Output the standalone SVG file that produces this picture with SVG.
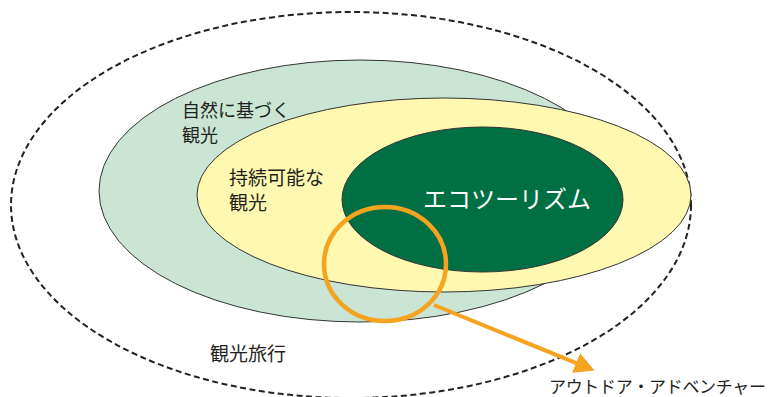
<svg xmlns="http://www.w3.org/2000/svg" width="768" height="397" viewBox="0 0 768 397">
<style>
.t{font-family:"Noto Sans CJK JP","Noto Sans",sans-serif;fill:#231f20}
.edge{stroke:#333;stroke-width:1}
</style>
<defs>
<marker id="ah" markerUnits="userSpaceOnUse" markerWidth="22" markerHeight="22" refX="1" refY="10.5" orient="auto" viewBox="0 0 22 22">
<path d="M0,0 L20,10.5 L0,21 z" fill="#F6A31F"/>
</marker>
</defs>
<rect width="768" height="397" fill="#fff"/>
<g id="kanko-ryoko">
<ellipse cx="351" cy="205" rx="340" ry="193" fill="none" stroke="#222" stroke-width="2" stroke-dasharray="6,3.5"/>
<text class="t" x="210" y="361" font-size="19">観光旅行</text>
</g>
<g id="shizen">
<ellipse class="edge" cx="360" cy="191" rx="261" ry="131" fill="#CAE5D4"/>
<text class="t" x="182" y="117" font-size="18">自然に基づく</text>
<text class="t" x="182" y="142" font-size="18">観光</text>
</g>
<g id="jizoku">
<ellipse class="edge" cx="444" cy="195" rx="247" ry="97" fill="#FFF8B0"/>
<text class="t" x="229" y="185" font-size="19">持続可能な</text>
<text class="t" x="229" y="210" font-size="19">観光</text>
</g>
<g id="ecotourism">
<ellipse class="edge" cx="482.5" cy="199.5" rx="140.5" ry="72.5" fill="#006F43"/>
<text class="t" x="423" y="208" font-size="24" style="fill:#fff">エコツーリズム</text>
</g>
<g id="outdoor">
<ellipse cx="385" cy="264" rx="61" ry="57" fill="none" stroke="#F6A31F" stroke-width="4.5"/>
<text class="t" x="549" y="393" font-size="17" textLength="217">アウトドア・アドベンチャー</text>
</g>
<g id="connectors">
<line x1="434" y1="305" x2="577" y2="363.4" stroke="#F6A31F" stroke-width="4" marker-end="url(#ah)"/>
</g>
</svg>
